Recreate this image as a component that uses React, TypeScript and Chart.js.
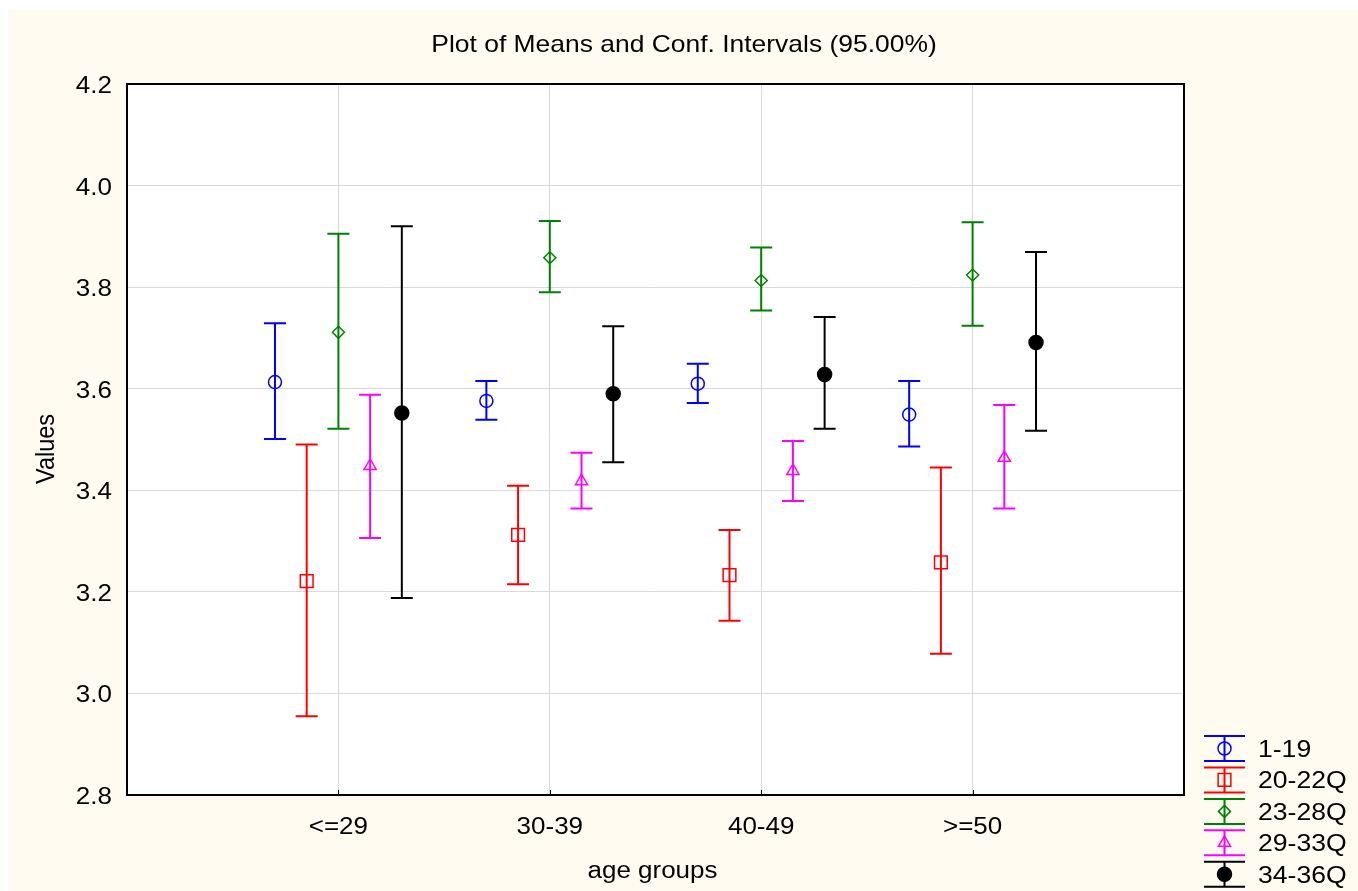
import React, { useEffect, useRef } from 'react';
import { Chart, registerables } from 'chart.js';

Chart.register(...registerables);

const categories = ['<=29', '30-39', '40-49', '>=50'];
const seriesNames = ['1-19', '20-22Q', '23-28Q', '29-33Q', '34-36Q'];

const mean_1_19 = [3.613, 3.576, 3.61, 3.549];
const low_1_19 = [3.501, 3.539, 3.572, 3.486];
const high_1_19 = [3.729, 3.615, 3.649, 3.615];

const mean_20_22Q = [3.221, 3.312, 3.233, 3.258];
const low_20_22Q = [2.955, 3.215, 3.143, 3.078];
const high_20_22Q = [3.49, 3.409, 3.322, 3.445];

const mean_23_28Q = [3.711, 3.858, 3.813, 3.824];
const low_23_28Q = [3.521, 3.79, 3.754, 3.724];
const high_23_28Q = [3.905, 3.93, 3.878, 3.928];

const mean_29_33Q = [3.448, 3.418, 3.438, 3.464];
const low_29_33Q = [3.306, 3.364, 3.379, 3.364];
const high_29_33Q = [3.588, 3.474, 3.497, 3.568];

const mean_34_36Q = [3.552, 3.59, 3.628, 3.691];
const low_34_36Q = [3.188, 3.455, 3.521, 3.517];
const high_34_36Q = [3.92, 3.723, 3.741, 3.869];

const yTickLabels = ['2.8', '3.0', '3.2', '3.4', '3.6', '3.8', '4.0', '4.2'];
const chartTitle = 'Plot of Means and Conf. Intervals (95.00%)';
const xTitle = 'age groups';
const yTitle = 'Values';

const means = [mean_1_19, mean_20_22Q, mean_23_28Q, mean_29_33Q, mean_34_36Q];
const lows = [low_1_19, low_20_22Q, low_23_28Q, low_29_33Q, low_34_36Q];
const highs = [high_1_19, high_20_22Q, high_23_28Q, high_29_33Q, high_34_36Q];

const colors = ['#0000FF', '#FF0000', '#008000', '#FF00FF', '#000000'];
const styles = ['circle', 'rect', 'rectRot', 'triangle', 'circle'];
const radii = [6.5, 9, 6, 7, 7];
const fills = ['rgba(0,0,0,0)', 'rgba(0,0,0,0)', 'rgba(0,0,0,0)', 'rgba(0,0,0,0)', '#000000'];
const offsets = [-0.3, -0.15, 0, 0.15, 0.3];

const W = 1350;
const H = 881;
const BG = '#FFFBF0';
const FONT_FAMILY = '"Liberation Sans", Arial, sans-serif';
const SX = 1.13;

function drawText(ctx: CanvasRenderingContext2D, text: string, x: number, y: number, size: number, align: CanvasTextAlign, rotate = 0, sx = SX) {
  ctx.save();
  ctx.translate(x, y);
  ctx.scale(sx, 1);
  if (rotate) ctx.rotate(rotate);
  ctx.font = `${size}px ${FONT_FAMILY}`;
  ctx.fillStyle = '#000000';
  ctx.textAlign = align;
  ctx.textBaseline = 'alphabetic';
  ctx.fillText(text, 0, 0);
  ctx.restore();
}

function drawMarker(ctx: CanvasRenderingContext2D, style: string, x: number, y: number, r: number, color: string, fill: string) {
  ctx.save();
  ctx.strokeStyle = color;
  ctx.fillStyle = fill;
  ctx.lineWidth = 1.5;
  ctx.beginPath();
  if (style === 'circle') {
    ctx.arc(x, y, r, 0, Math.PI * 2);
  } else if (style === 'rect') {
    const s = r * Math.SQRT1_2;
    ctx.rect(x - s, y - s, 2 * s, 2 * s);
  } else if (style === 'rectRot') {
    ctx.moveTo(x, y - r);
    ctx.lineTo(x + r, y);
    ctx.lineTo(x, y + r);
    ctx.lineTo(x - r, y);
    ctx.closePath();
  } else if (style === 'triangle') {
    ctx.moveTo(x, y - r);
    ctx.lineTo(x + r * Math.sin(Math.PI / 3), y + r / 2);
    ctx.lineTo(x - r * Math.sin(Math.PI / 3), y + r / 2);
    ctx.closePath();
  }
  ctx.fill();
  ctx.stroke();
  ctx.restore();
}

const backgroundPlugin = {
  id: 'bgPlugin',
  beforeDraw(chart: any) {
    const { ctx, chartArea } = chart;
    ctx.save();
    ctx.fillStyle = BG;
    ctx.fillRect(0, 0, chart.width, chart.height);
    ctx.fillStyle = '#FFFFFF';
    ctx.fillRect(chartArea.left, chartArea.top, chartArea.right - chartArea.left, chartArea.bottom - chartArea.top);
    ctx.restore();
  },
};

const errorBarPlugin = {
  id: 'errorBars',
  beforeDatasetsDraw(chart: any) {
    const { ctx } = chart;
    const xs = chart.scales.x;
    const ys = chart.scales.y;
    chart.data.datasets.forEach((ds: any) => {
      ctx.save();
      ctx.strokeStyle = ds.borderColor;
      ctx.lineWidth = 2;
      ds.data.forEach((pt: any, i: number) => {
        const px = xs.getPixelForValue(pt.x);
        const yl = ys.getPixelForValue(ds.lows[i]);
        const yh = ys.getPixelForValue(ds.highs[i]);
        ctx.beginPath();
        ctx.moveTo(px, yh);
        ctx.lineTo(px, yl);
        ctx.moveTo(px - 11, yh);
        ctx.lineTo(px + 11, yh);
        ctx.moveTo(px - 11, yl);
        ctx.lineTo(px + 11, yl);
        ctx.stroke();
      });
      ctx.restore();
    });
  },
};

const framePlugin = {
  id: 'framePlugin',
  afterDraw(chart: any) {
    const { ctx, chartArea } = chart;
    const xs = chart.scales.x;
    const ys = chart.scales.y;
    ctx.save();
    ctx.strokeStyle = '#000000';
    ctx.lineWidth = 2;
    ctx.strokeRect(chartArea.left, chartArea.top, chartArea.right - chartArea.left, chartArea.bottom - chartArea.top);
    ctx.lineWidth = 1;
    categories.forEach((_, i) => {
      const px = Math.round(xs.getPixelForValue(i + 1)) + 0.5;
      ctx.beginPath();
      ctx.moveTo(px, chartArea.bottom);
      ctx.lineTo(px, chartArea.bottom - 5);
      ctx.stroke();
    });
    ctx.restore();

    drawText(ctx, chartTitle, 676, 42, 23.4, 'center');
    drawText(ctx, xTitle, 644.5, 868, 23, 'center');
    drawText(ctx, yTitle, 46, 439, 23.5, 'center', -Math.PI / 2);

    ys.ticks.forEach((t: any, i: number) => {
      const py = ys.getPixelForValue(t.value);
      drawText(ctx, yTickLabels[i], chartArea.left - 15, py + 9, 23, 'right');
    });
    categories.forEach((c, i) => {
      const px = xs.getPixelForValue(i + 1);
      drawText(ctx, c, px, 824, 23, 'center');
    });

    seriesNames.forEach((name, i) => {
      const cy = 738.5 + i * 31.45;
      const cx = 1216.5;
      ctx.save();
      ctx.strokeStyle = colors[i];
      ctx.lineWidth = 2;
      ctx.beginPath();
      ctx.moveTo(1196, cy - 12.5);
      ctx.lineTo(1237, cy - 12.5);
      ctx.moveTo(1196, cy + 12.5);
      ctx.lineTo(1237, cy + 12.5);
      ctx.moveTo(cx, cy - 12.5);
      ctx.lineTo(cx, cy + 12.5);
      ctx.stroke();
      ctx.restore();
      drawMarker(ctx, styles[i], cx, cy, radii[i], colors[i], fills[i]);
      drawText(ctx, name, 1250, cy + 8.5, 23.5, 'left');
    });
  },
};

export default function App() {
  const canvasRef = useRef<HTMLCanvasElement | null>(null);

  useEffect(() => {
    if (!canvasRef.current) return;
    const datasets = seriesNames.map((name, s) => ({
      label: name,
      data: categories.map((_, i) => ({ x: i + 1 + offsets[s], y: means[s][i] })),
      lows: lows[s],
      highs: highs[s],
      showLine: false,
      borderColor: colors[s],
      backgroundColor: fills[s],
      pointStyle: styles[s],
      pointRadius: radii[s],
      pointBorderWidth: 1.5,
      pointBorderColor: colors[s],
      pointBackgroundColor: fills[s],
    }));

    const chart = new Chart(canvasRef.current, {
      type: 'scatter',
      data: { datasets } as any,
      options: {
        animation: false,
        responsive: false,
        devicePixelRatio: 1,
        layout: { padding: { top: 74, right: 174, left: 0, bottom: 0 } },
        plugins: {
          legend: { display: false },
          title: { display: false },
          tooltip: { enabled: false },
        },
        scales: {
          x: {
            type: 'linear',
            min: 0,
            max: 5,
            afterBuildTicks: (scale: any) => {
              scale.ticks = categories.map((_, i) => ({ value: i + 1 }));
            },
            ticks: { display: false },
            grid: { color: '#D9D9D9', lineWidth: 1, drawTicks: false },
            border: { display: false },
            afterFit: (scale: any) => {
              scale.height = 96;
            },
          },
          y: {
            type: 'linear',
            min: 2.8,
            max: 4.2,
            afterBuildTicks: (scale: any) => {
              scale.ticks = yTickLabels.map((v) => ({ value: parseFloat(v) }));
            },
            ticks: { display: false },
            grid: { color: '#D9D9D9', lineWidth: 1, drawTicks: false },
            border: { display: false },
            afterFit: (scale: any) => {
              scale.width = 119;
            },
          },
        },
      } as any,
      plugins: [backgroundPlugin, errorBarPlugin, framePlugin],
    });
    return () => chart.destroy();
  }, []);

  return (
    <div style={{ position: 'absolute', left: 8, top: 10, width: W, height: H, background: BG }}>
      <canvas ref={canvasRef} width={W} height={H} style={{ display: 'block', width: W, height: H }} />
    </div>
  );
}
